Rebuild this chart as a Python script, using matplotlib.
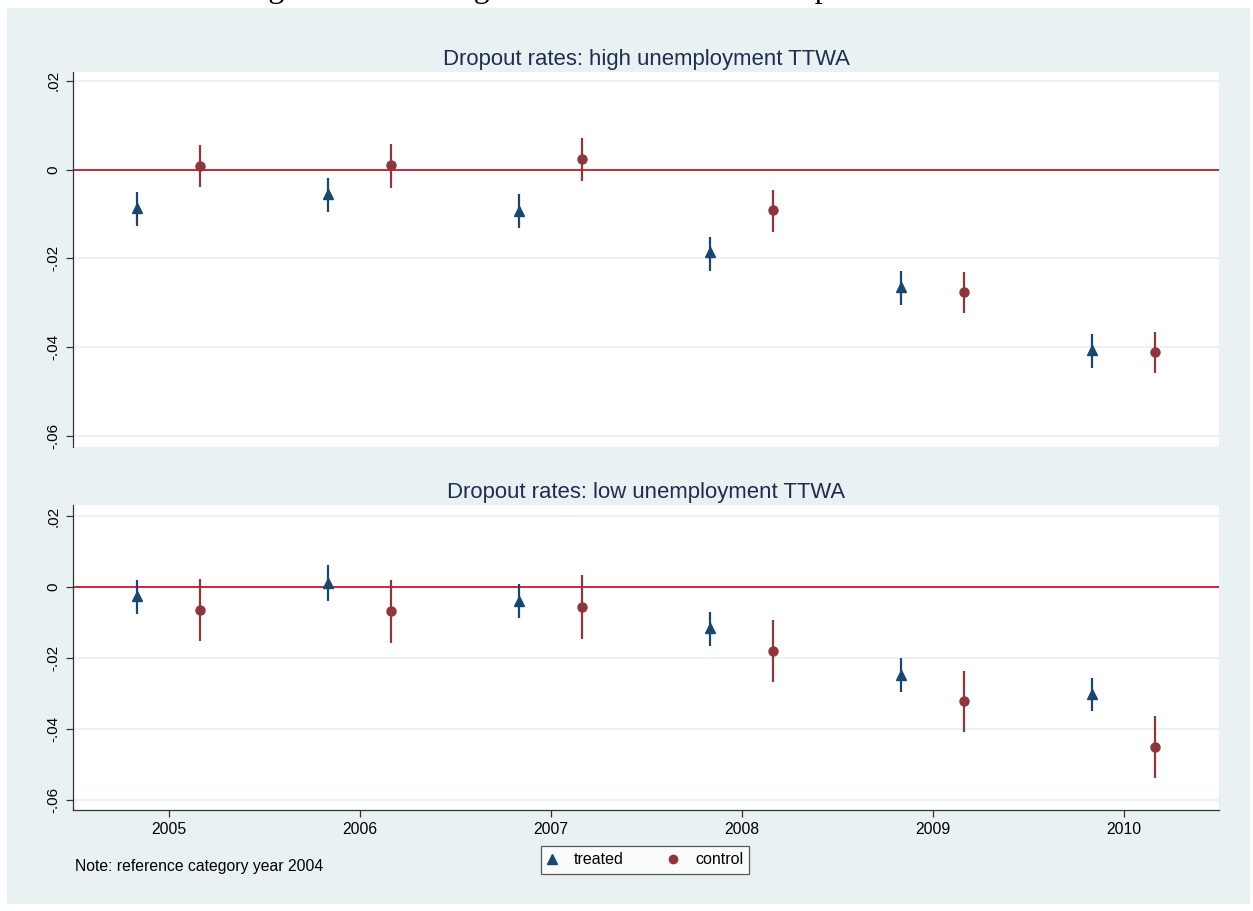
import numpy as np
import matplotlib
matplotlib.use("Agg")
import matplotlib.pyplot as plt
from matplotlib.patches import Rectangle

plt.rcParams['font.family'] = ['Liberation Sans', 'DejaVu Sans']

# data
years = [2005, 2006, 2007, 2008, 2009, 2010]

# high unemployment TTWA
high_treated = [-0.0086, -0.0056, -0.0094, -0.0186, -0.0265, -0.0407]
high_treated_lo = [-0.0126, -0.0095, -0.0132, -0.0228, -0.0304, -0.0446]
high_treated_hi = [-0.0050, -0.0018, -0.0056, -0.0151, -0.0229, -0.0371]
high_control = [0.0008, 0.0010, 0.0025, -0.0092, -0.0276, -0.0412]
high_control_lo = [-0.0040, -0.0041, -0.0025, -0.0141, -0.0324, -0.0459]
high_control_hi = [0.0056, 0.0057, 0.0072, -0.0045, -0.0230, -0.0365]

# low unemployment TTWA
low_treated = [-0.0025, 0.0012, -0.0039, -0.0116, -0.0248, -0.0302]
low_treated_lo = [-0.0076, -0.0039, -0.0086, -0.0165, -0.0295, -0.0349]
low_treated_hi = [0.0020, 0.0061, 0.0009, -0.0070, -0.0201, -0.0256]
low_control = [-0.0065, -0.0068, -0.0057, -0.0179, -0.0322, -0.0451]
low_control_lo = [-0.0153, -0.0158, -0.0147, -0.0267, -0.0409, -0.0539]
low_control_hi = [0.0023, 0.0019, 0.0033, -0.0093, -0.0237, -0.0364]

ytick_vals = [0.02, 0, -0.02, -0.04, -0.06]
ytick_labels = ['.02', '0', '-.02', '-.04', '-.06']

navy = '#1a476f'
maroon = '#90353b'
bg = '#e9f1f3'
zero_col = '#d2213f'

W, H = 1253, 911
fig = plt.figure(figsize=(W / 100, H / 100), dpi=100)
fig.patch.set_facecolor('white')
fig.patches.append(Rectangle((7 / W, 1 - 904 / H), 1243 / W, 896 / H,
                             transform=fig.transFigure, facecolor=bg,
                             edgecolor='none', zorder=-10))

# caption of the page, mostly cut off above the figure
fig.text(242 / W, 1 + 3 / H, 'Figure 4: Assessing the common trend assumption',
         ha='left', va='baseline', fontsize=22.8, family='Liberation Serif',
         zorder=-20)

left = 73 / W
width = 1146 / W
ax1 = fig.add_axes([left, 1 - 447 / H, width, 375 / H])
ax2 = fig.add_axes([left, 1 - 810 / H, width, 305 / H])

off = 1 / 6


def draw(ax, tr, tr_lo, tr_hi, co, co_lo, co_hi, title, ylims):
    x = np.array(years, dtype=float)
    ax.set_facecolor('white')
    for v in ytick_vals:
        if v != 0:
            ax.axhline(v, color='#e9eff1', lw=1.2, zorder=0)
    ax.axhline(0, color=zero_col, lw=1.4, zorder=1)
    ax.vlines(x - off, tr_lo, tr_hi, color=navy, lw=1.6, zorder=2)
    ax.plot(x - off, tr, '^', color=navy, ms=7, zorder=3)
    ax.vlines(x + off, co_lo, co_hi, color=maroon, lw=1.6, zorder=2)
    ax.plot(x + off, co, 'o', color=maroon, ms=6.5, zorder=3)
    ax.set_xlim(2004.5, 2010.5)
    ax.set_ylim(*ylims)
    ax.set_yticks(ytick_vals)
    ax.set_yticklabels(ytick_labels, rotation=90, va='center', fontsize=11)
    ax.tick_params(axis='y', length=5, width=0.9, pad=4, color='#333333')
    for s in ['top', 'right']:
        ax.spines[s].set_visible(False)
    ax.spines['left'].set_color('#333333')
    ax.spines['left'].set_linewidth(0.9)
    ax.set_title(title, fontsize=15.9, color='#1f2d4f', pad=5)


draw(ax1, high_treated, high_treated_lo, high_treated_hi,
     high_control, high_control_lo, high_control_hi,
     'Dropout rates: high unemployment TTWA', (-0.0625, 0.022))
ax1.spines['bottom'].set_visible(False)
ax1.set_xticks([])

draw(ax2, low_treated, low_treated_lo, low_treated_hi,
     low_control, low_control_lo, low_control_hi,
     'Dropout rates: low unemployment TTWA', (-0.0628, 0.0231))
ax2.set_xticks(years)
ax2.set_xticklabels([str(y) for y in years], fontsize=11.3)
ax2.tick_params(axis='x', length=5, width=0.9, pad=4, color='#333333')
ax2.spines['bottom'].set_color('#333333')
ax2.spines['bottom'].set_linewidth(0.9)

h1, = ax2.plot([], [], '^', color=navy, ms=6.5, label='treated')
h2, = ax2.plot([], [], 'o', color=maroon, ms=6, label='control')
leg = fig.legend(handles=[h1, h2], loc='center', ncol=2,
                 bbox_to_anchor=(645 / W, 1 - 860 / H), fontsize=11.5,
                 frameon=True, fancybox=False, edgecolor='#333333',
                 handlelength=0.6, handletextpad=1.07, columnspacing=2.8,
                 borderpad=0.4)
leg.get_frame().set_linewidth(0.9)

fig.text(75 / W, 1 - 867 / H, 'Note: reference category year 2004',
         ha='left', va='center', fontsize=11.3)

fig.savefig('out.png', dpi=100)
